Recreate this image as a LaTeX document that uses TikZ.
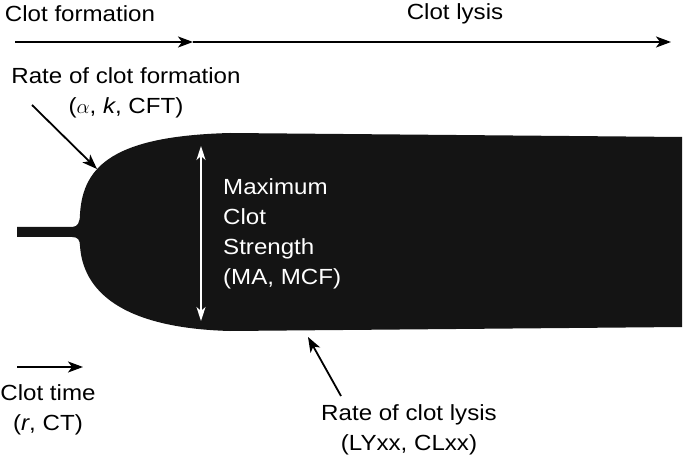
\documentclass[tikz,border=0pt]{standalone}
\usepackage{fontspec}
\setmainfont{Liberation Sans}[FakeStretch=1.1]
\usetikzlibrary{arrows.meta}

\tikzset{
  lbl/.style={align=center, inner sep=0pt, font=\fontsize{22}{30}\selectfont},
  punta/.tip={Stealth[length=15bp,width=11bp,inset=4bp]},
  freccia/.style={-punta, line width=1.8bp},
  coagulo/.style={fill=black!92, draw=none},
}

\begin{document}
\begin{tikzpicture}[x=1bp, y=-1bp]
\useasboundingbox (0,0) rectangle (685,459);

% Parametri
\def\stemtop{227}
\def\stembot{237}

% Forma del coagulo
\fill[coagulo] (17,\stemtop) -- (72,\stemtop)
    .. controls (78,\stemtop) and (80,222) .. (80,214)
    .. controls (83,165) and (115,136) .. (230,133)
    -- (682,137) -- (682,327) -- (230,331)
    .. controls (120,328) and (83,290) .. (80,246)
    .. controls (80,240) and (78,\stembot) .. (72,\stembot)
    -- (17,\stembot) -- cycle;

% Freccia del tempo in alto
\node[lbl] (formlbl) at (80,14) {Clot formation};
\node[lbl] (lysislbl) at (455,14) {Clot lysis};
\coordinate (tstart) at (15,42);
\coordinate (tmid) at (193,42);
\coordinate (tend) at (671,42);
\draw[freccia] (tstart) -- (tmid);
\draw[freccia] (tmid) -- (tend);

% Velocita di formazione
\node[lbl] (ratefl) at (126,93) {Rate of clot formation\\($\alpha$, \textit{k}, CFT)};
\coordinate (rftail) at (32,105);
\coordinate (rfhead) at (97,169);
\draw[freccia] (rftail) -- (rfhead);

% Ampiezza massima
\coordinate (mstop) at (201,146);
\coordinate (msbot) at (201,321);
\draw[white, line width=1.5bp, {Stealth[length=14bp,width=9bp,inset=4bp]}-{Stealth[length=14bp,width=9bp,inset=4bp]}] (mstop) -- (msbot);
\node[lbl, text=white, align=left, anchor=west] (mcs) at (223,234)
    {Maximum\\Clot\\Strength\\(MA, MCF)};

% Tempo di coagulo
\coordinate (cttail) at (17,367);
\coordinate (cthead) at (83,367);
\draw[freccia] (cttail) -- (cthead);
\node[lbl] (cltime) at (48,410) {Clot time\\(\textit{r}, CT)};

% Velocita di lisi
\node[lbl] (ratelys) at (409,430) {Rate of clot lysis\\(LYxx, CLxx)};
\coordinate (rltail) at (341,396);
\coordinate (rlhead) at (308,337);
\draw[freccia] (rltail) -- (rlhead);

\end{tikzpicture}
\end{document}
